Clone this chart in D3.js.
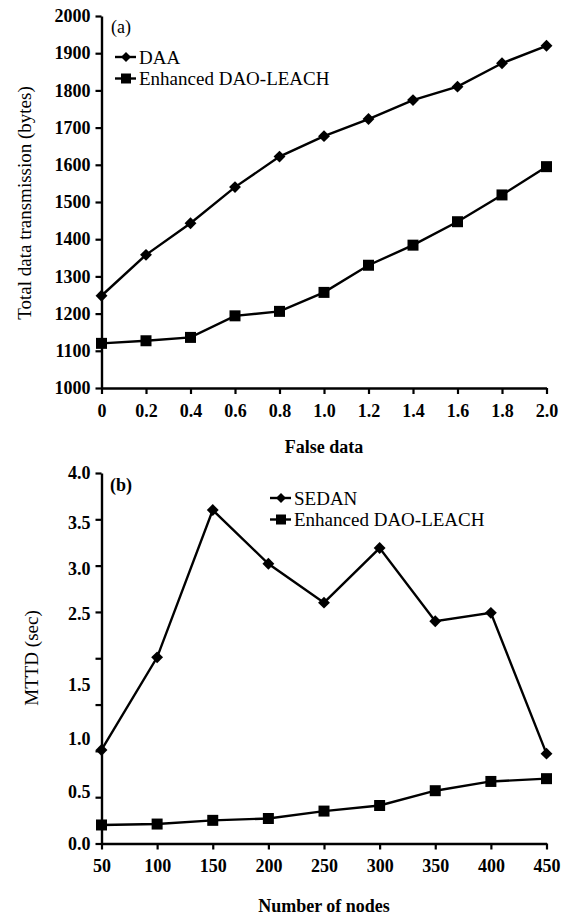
<!DOCTYPE html>
<html>
<head>
<meta charset="utf-8">
<script src="https://cdn.jsdelivr.net/npm/d3@7"></script>
<style>
  body { margin: 0; background: #fff; }
  svg { display: block; }
</style>
</head>
<body>
<svg id="chart" width="565" height="918"></svg>
<script>
// panel (a)
var falseData = [0, 0.2, 0.4, 0.6, 0.8, 1.0, 1.2, 1.4, 1.6, 1.8, 2.0];
var daa = [1248, 1358, 1443, 1540, 1622, 1677, 1723, 1774, 1810, 1873, 1920];
var daoA = [1120, 1127, 1136, 1194, 1206, 1257, 1330, 1384, 1447, 1519, 1595];
var xTicksA = ["0", "0.2", "0.4", "0.6", "0.8", "1.0", "1.2", "1.4", "1.6", "1.8", "2.0"];
var yTicksA = [1000, 1100, 1200, 1300, 1400, 1500, 1600, 1700, 1800, 1900, 2000];

// panel (b)
var nodes = [50, 100, 150, 200, 250, 300, 350, 400, 450];
var sedan = [1.01, 2.01, 3.60, 3.02, 2.60, 3.19, 2.40, 2.49, 0.97];
var daoB = [0.20, 0.21, 0.25, 0.27, 0.35, 0.41, 0.57, 0.67, 0.70];
var yTicksB = [0, 0.5, 1.0, 1.5, 2.0, 2.5, 3.0, 3.5, 4.0];
var yLabelsB = ["0.0", "0.5", "1.0", "1.5", "", "2.5", "3.0", "3.5", "4.0"];

var FONT = "'Liberation Serif', 'Times New Roman', serif";
var svg = d3.select("#chart").style("font-family", FONT);

function styleAxis(g) {
  g.select(".domain").attr("stroke", "#000").attr("stroke-width", 2.4);
  g.selectAll(".tick line").attr("stroke", "#000").attr("stroke-width", 2.2);
  g.selectAll(".tick text")
    .style("font-family", FONT)
    .style("font-size", "18px")
    .style("font-weight", "bold")
    .attr("fill", "#000");
}

var diamond = d3.symbol().type(d3.symbolDiamond2).size(90);
var square = d3.symbol().type(d3.symbolSquare).size(121);

function drawSeries(xs, vals, xScale, yScale, sym) {
  var line = d3.line()
    .x(function(d, i) { return xScale(xs[i]); })
    .y(function(d) { return yScale(d); });
  svg.append("path")
    .datum(vals)
    .attr("d", line)
    .attr("fill", "none")
    .attr("stroke", "#000")
    .attr("stroke-width", 2.4);
  svg.append("g").selectAll("path")
    .data(vals)
    .join("path")
      .attr("d", sym)
      .attr("transform", function(d, i) {
        return "translate(" + xScale(xs[i]) + "," + yScale(d) + ")";
      })
      .attr("fill", "#000");
}

function legend(x, y, items) {
  items.forEach(function(it, i) {
    var yy = y + i * 21.5;
    svg.append("line")
      .attr("x1", x).attr("x2", x + 21)
      .attr("y1", yy).attr("y2", yy)
      .attr("stroke", "#000").attr("stroke-width", 2.4);
    svg.append("path")
      .attr("d", d3.symbol().type(it.type).size(it.size)())
      .attr("transform", "translate(" + (x + 11) + "," + yy + ")")
      .attr("fill", "#000");
    svg.append("text")
      .attr("x", x + 24).attr("y", yy)
      .attr("dy", "0.35em")
      .style("font-size", "19px")
      .text(it.label);
  });
}

// ---------- panel (a) ----------
var xA = d3.scaleLinear().domain([0, 2]).range([101.5, 546.5]);
var yA = d3.scaleLinear().domain([1000, 2000]).range([388, 16]);

svg.append("g")
  .attr("transform", "translate(0,388)")
  .call(d3.axisBottom(xA).tickValues(falseData).tickSize(6).tickSizeOuter(0).tickPadding(10)
    .tickFormat(function(d, i) { return xTicksA[i]; }))
  .call(styleAxis);

svg.append("g")
  .attr("transform", "translate(101.5,0)")
  .call(d3.axisLeft(yA).tickValues(yTicksA).tickSize(6).tickSizeOuter(0).tickPadding(5)
    .tickFormat(d3.format("d")))
  .call(styleAxis);

drawSeries(falseData, daa, xA, yA, diamond);
drawSeries(falseData, daoA, xA, yA, square);

svg.append("text").attr("x", 111).attr("y", 27).attr("dy", "0.35em")
  .style("font-size", "18px").text("(a)");
legend(115, 57, [
  { label: "DAA", type: d3.symbolDiamond2, size: 64 },
  { label: "Enhanced DAO-LEACH", type: d3.symbolSquare, size: 100 }
]);

svg.append("text")
  .attr("x", 324).attr("y", 447).attr("dy", "0.35em")
  .attr("text-anchor", "middle")
  .style("font-size", "18px").style("font-weight", "bold")
  .text("False data");
svg.append("text")
  .attr("transform", "translate(24,203) rotate(-90)")
  .attr("dy", "0.35em")
  .attr("text-anchor", "middle")
  .style("font-size", "19px")
  .text("Total data transmission (bytes)");

// ---------- panel (b) ----------
var xB = d3.scaleLinear().domain([50, 450]).range([101.5, 546.5]);
var yB = d3.scaleLinear().domain([0, 4]).range([843.5, 473]);

svg.append("g")
  .attr("transform", "translate(0,843.5)")
  .call(d3.axisBottom(xB).tickValues(nodes).tickSize(6).tickSizeOuter(0).tickPadding(10)
    .tickFormat(d3.format("d")))
  .call(styleAxis);

// the original figure's y labels sit slightly off their ticks
var labelShift = [0, -5, -12, -20, 0, 2, 3, 3, 0];
svg.append("g")
  .attr("transform", "translate(101.5,0)")
  .call(d3.axisLeft(yB).tickValues(yTicksB).tickSize(6).tickSizeOuter(0).tickPadding(5)
    .tickFormat(function(d, i) { return yLabelsB[i]; }))
  .call(styleAxis)
  .selectAll(".tick text")
    .attr("y", function(d, i) { return labelShift[i]; });

drawSeries(nodes, sedan, xB, yB, diamond);
drawSeries(nodes, daoB, xB, yB, square);

svg.append("text").attr("x", 110).attr("y", 485).attr("dy", "0.35em")
  .style("font-size", "18px").style("font-weight", "bold").text("(b)");
legend(270, 498, [
  { label: "SEDAN", type: d3.symbolDiamond2, size: 64 },
  { label: "Enhanced DAO-LEACH", type: d3.symbolSquare, size: 100 }
]);

svg.append("text")
  .attr("x", 324).attr("y", 906).attr("dy", "0.35em")
  .attr("text-anchor", "middle")
  .style("font-size", "18px").style("font-weight", "bold")
  .text("Number of nodes");
svg.append("text")
  .attr("transform", "translate(31,658) rotate(-90)")
  .attr("dy", "0.35em")
  .attr("text-anchor", "middle")
  .style("font-size", "19px")
  .text("MTTD (sec)");
</script>
</body>
</html>
